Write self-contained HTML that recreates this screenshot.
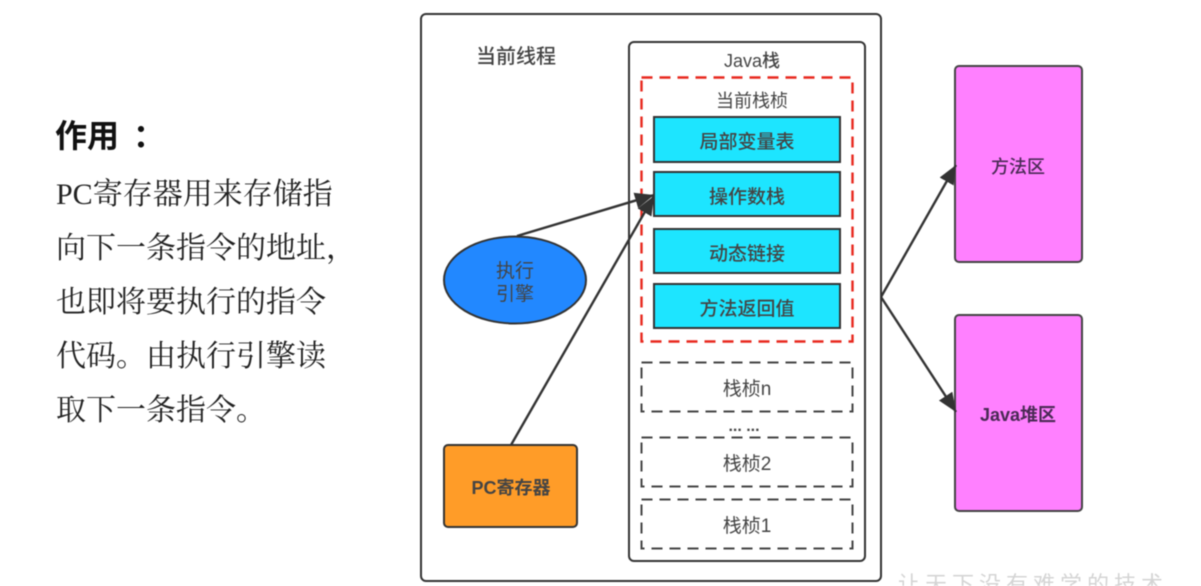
<!DOCTYPE html>
<html lang="zh"><head><meta charset="utf-8"><style>
html,body{margin:0;padding:0;width:1201px;height:586px;overflow:hidden;background:#fff}
svg{display:block;filter:blur(0.45px)}
text{font-family:"Liberation Sans","Noto Sans CJK SC",sans-serif;text-anchor:middle;fill:#444}
.b{font-family:"Liberation Serif","Noto Serif CJK SC",serif;text-anchor:start;font-size:30px;fill:#222}
</style></head><body>
<svg width="1201" height="586" viewBox="0 0 1201 586" xmlns="http://www.w3.org/2000/svg">
<defs><marker id="a" markerUnits="userSpaceOnUse" markerWidth="22" markerHeight="18" refX="19" refY="8" orient="auto"><path d="M0 0L19 8L0 16z" fill="#333"/></marker></defs>
<text x="55" y="147" style="text-anchor:start;font-size:32px;font-weight:700;fill:#111">作用</text>
<text x="133" y="147" style="text-anchor:start;font-size:32px;font-weight:700;fill:#111">：</text>
<text class="b" x="56" y="204">PC寄存器用来存储指</text>
<text class="b" x="56" y="258">向下一条指令的地址，</text>
<text class="b" x="56" y="312">也即将要执行的指令</text>
<text class="b" x="56" y="366">代码。由执行引擎读</text>
<text class="b" x="56" y="420">取下一条指令。</text>

<rect x="421" y="14" width="460" height="567" rx="5" fill="#fff" stroke="#333" stroke-width="2"/>
<rect x="629" y="42" width="236" height="519" rx="5" fill="#fff" stroke="#333" stroke-width="2"/>
<text x="516" y="63" font-size="20" font-weight="500">当前线程</text>
<text x="752" y="67" font-size="18" font-weight="500">Java栈</text>

<rect x="641.5" y="77.5" width="211" height="264" fill="none" stroke="#e8281e" stroke-width="2.4" stroke-dasharray="11 7"/>
<text x="752" y="107" font-size="18">当前栈桢</text>
<g fill="#1de5ff" stroke="#333" stroke-width="2">
<rect x="654" y="117" width="186" height="45"/>
<rect x="654" y="172" width="186" height="44"/>
<rect x="654" y="229" width="186" height="44"/>
<rect x="654" y="284" width="186" height="44"/>
</g>
<g font-size="19" font-weight="500">
<text x="747" y="148">局部变量表</text>
<text x="747" y="203">操作数栈</text>
<text x="747" y="260">动态链接</text>
<text x="747" y="315">方法返回值</text>
</g>

<g fill="none" stroke="#444" stroke-width="2" stroke-dasharray="11 7">
<rect x="641.5" y="362.5" width="211" height="49"/>
<rect x="641.5" y="437.5" width="211" height="49"/>
<rect x="641.5" y="499.5" width="211" height="49"/>
</g>
<g font-size="19">
<text x="747" y="395">栈桢n</text>
<text x="744" y="431" font-size="16" font-weight="700">... ...</text>
<text x="747" y="470">栈桢2</text>
<text x="747" y="532">栈桢1</text>
</g>

<ellipse cx="515" cy="280" rx="71" ry="43.5" fill="#2288ff" stroke="#333" stroke-width="2"/>
<text x="515" y="277" font-size="19">执行</text>
<text x="515" y="300" font-size="19">引擎</text>
<rect x="444" y="445" width="133" height="82" rx="4" fill="#ff9c28" stroke="#333" stroke-width="2"/>
<text x="511" y="494" font-size="18" font-weight="700">PC寄存器</text>

<rect x="955" y="66" width="127" height="196" rx="4" fill="#ff80ff" stroke="#444" stroke-width="2"/>
<rect x="955" y="315" width="127" height="196" rx="4" fill="#ff80ff" stroke="#444" stroke-width="2"/>
<text x="1018" y="173" font-size="18" font-weight="500" style="fill:#4a2a55">方法区</text>
<text x="1018" y="421" font-size="18" font-weight="700" style="fill:#4a2a55">Java堆区</text>

<g stroke="#333" stroke-width="2.4" fill="none" marker-end="url(#a)">
<line x1="517" y1="236" x2="654" y2="195"/>
<line x1="511" y1="445" x2="654" y2="196"/>
<line x1="881" y1="297" x2="956" y2="165"/>
<line x1="881" y1="297" x2="956" y2="412"/>
</g>
<text x="1033" y="592" font-size="22" style="fill:#d4d4d4;letter-spacing:5px">让天下没有难学的技术</text>
</svg>
</body></html>
